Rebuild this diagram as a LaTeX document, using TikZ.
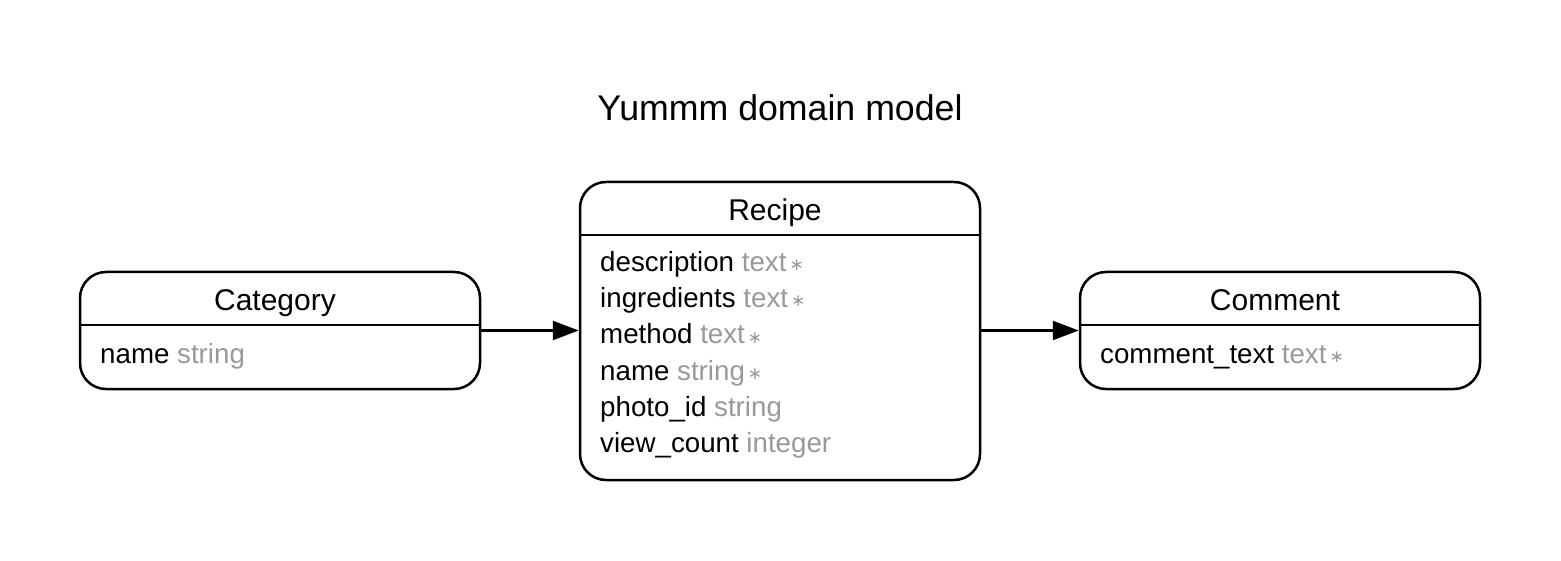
\documentclass[tikz,border=0pt]{standalone}
\usepackage{fontspec}
\setmainfont{Liberation Sans}
\newfontfamily\symfont{DejaVu Sans}
\usetikzlibrary{arrows.meta}
\definecolor{typegray}{HTML}{999999}
\tikzset{
  entity/.style={draw, line width=2.5pt, rounded corners=26pt, minimum width=400pt, inner sep=0pt},
  sepline/.style={line width=2.5pt},
  hdr/.style={anchor=base, inner sep=0pt, font=\fontsize{30}{36}\selectfont},
  row/.style={anchor=base west, inner sep=0pt, font=\fontsize{27.7}{33}\selectfont},
  ttl/.style={anchor=base, inner sep=0pt, font=\fontsize{35.7}{42}\selectfont},
  rel/.style={line width=2.5pt, -{Triangle[length=26pt,width=19pt]}}
}
\newcommand{\ty}[1]{\textcolor{typegray}{#1}}
\newcommand{\req}{\kern3pt\raisebox{1pt}{\textcolor{typegray}{\symfont\fontsize{17}{17}\selectfont ∗}}}
\begin{document}
\begin{tikzpicture}[x=1pt,y=-1pt]
\useasboundingbox (0,0) rectangle (1561,561);
\node[ttl] (title) at (780,121) {Yummm domain model};
% Recipe
\node[entity, minimum height=298pt] (recipe) at (780,331) {};
\draw[sepline] (recipe.west |- 0,235) -- (recipe.east |- 0,235);
\node[hdr] (recipeh) at (775,221) {Recipe};
\node[row] (r1) at (600,272) {description \ty{text}\req};
\node[row] (r2) at (600,308) {ingredients \ty{text}\req};
\node[row] (r3) at (600,344) {method \ty{text}\req};
\node[row] (r4) at (600,380) {name \ty{string}\req};
\node[row] (r5) at (600,416) {photo\_id \ty{string}};
\node[row] (r6) at (600,452) {view\_count \ty{integer}};
% Category
\node[entity, minimum height=117pt] (category) at (280,330.5) {};
\draw[sepline] (category.west |- 0,325) -- (category.east |- 0,325);
\node[hdr] (categoryh) at (275,311) {Category};
\node[row] (c1) at (100,363) {name \ty{string}};
% Comment
\node[entity, minimum height=117pt] (comment) at (1280,330.5) {};
\draw[sepline] (comment.west |- 0,325) -- (comment.east |- 0,325);
\node[hdr] (commenth) at (1275,311) {Comment};
\node[row] (m1) at (1100,363) {comment\_text \ty{text}\req};
% relations
\draw[rel] (category.east) -- (recipe.west |- category.east);
\draw[rel] (recipe.east |- comment.west) -- (comment.west);
\end{tikzpicture}
\end{document}
